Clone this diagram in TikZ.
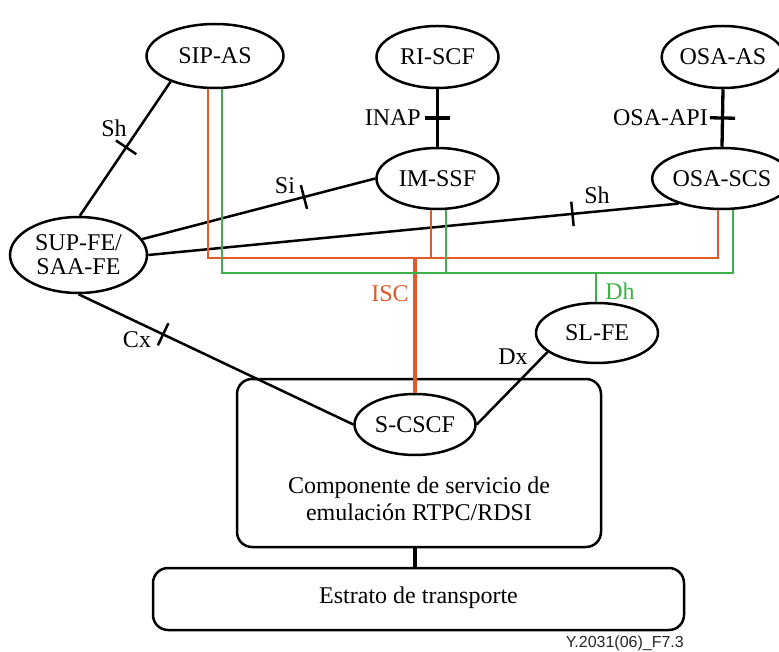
\documentclass[tikz,border=0pt]{standalone}
\usepackage{fontspec}
\setmainfont{Liberation Serif}
\newfontfamily\figsans{Liberation Sans}
\usetikzlibrary{shapes.geometric,calc}

\definecolor{iscorange}{RGB}{226,90,40}
\definecolor{dhgreen}{RGB}{62,176,74}

\begin{document}
\begin{tikzpicture}[x=1pt,y=-1pt,
  font=\fontsize{24}{27}\selectfont,
  fe/.style={ellipse, draw, line width=2.5pt, inner sep=0pt, align=center},
  link/.style={line width=2.5pt, line cap=butt},
  heavylink/.style={line width=3.3pt},
  tickmark/.style={sloped, inner sep=0pt, minimum width=0pt, minimum height=22pt},
  lbl/.style={inner sep=0pt},
  iscline/.style={iscorange, line width=2.4pt},
  iscmain/.style={iscorange, line width=3.5pt},
  dhline/.style={dhgreen, line width=2.4pt},
  stratum/.style={draw, line width=2.5pt, rounded corners=15pt, inner sep=0pt}
]
\useasboundingbox (0,0) rectangle (779,652);

% functional entities
\node[fe, minimum width=137pt, minimum height=64pt] (sip)    at (215,56)    {SIP-AS};
\node[fe, minimum width=122pt, minimum height=62pt] (riscf)  at (437.5,57)  {RI-SCF};
\node[fe, minimum width=119pt, minimum height=62pt] (osaas)  at (723,57)    {OSA-AS};
\node[fe, minimum width=122pt, minimum height=61pt] (imssf)  at (437.5,178.5) {IM-SSF};
\node[fe, minimum width=119pt, minimum height=61pt] (osascs) at (722,178.5) {OSA-SCS};
\node[fe, minimum width=137pt, minimum height=76pt] (sup)    at (78.5,255)  {SUP-FE/\\[-3pt]SAA-FE};
\node[fe, minimum width=122pt, minimum height=60pt] (slfe)   at (597,333)   {SL-FE};

% PSTN/ISDN emulation component and transport stratum
\node[stratum, minimum width=364pt, minimum height=168pt] (comp) at (419,463) {};
\node[fe, minimum width=121pt, minimum height=61pt] (scscf)  at (415,424.5) {S-CSCF};
\node[align=center, lbl] (comptext) at (419,499) {Componente de servicio de\\emulación RTPC/RDSI};
\node[stratum, minimum width=531pt, minimum height=62pt] (transport) at (418.5,599) {};
\node[lbl] (transporttext) at (418.5,597.5) {Estrato de transporte};

% reference points with tick marks
\draw[link] (sip.210) -- node[tickmark, pos=0.49] (tkShA) {} (sup.88);
\draw[link] (tkShA.north) -- (tkShA.south);
\node[lbl] (lShA) at (114,128) {Sh};

\draw[link] (sup.14) -- node[tickmark, pos=0.694] (tkSi) {} (imssf.west);
\draw[link] (tkSi.north) -- (tkSi.south);
\node[lbl] (lSi) at (285,186) {Si};

\draw[link] (sup.east) -- node[tickmark, pos=0.80] (tkShB) {} (osascs.210);
\draw[link] (tkShB.north) -- (tkShB.south);
\node[lbl] (lShB) at (597,195) {Sh};

\draw[link] (sup.south) -- node[tickmark, pos=0.308] (tkCx) {} (scscf.west);
\draw[link] (tkCx.north) -- (tkCx.south);
\node[lbl] (lCx) at (137,340) {Cx};

\draw[heavylink] (riscf.south) -- node[tickmark, pos=0.5] (tkInap) {} (imssf.north);
\draw[heavylink] (tkInap.north) -- (tkInap.south);
\node[lbl, anchor=east] (lInap) at (421,118) {INAP};

\draw[heavylink] (osaas.south) -- node[tickmark, pos=0.5] (tkApi) {} (osascs.north);
\draw[heavylink] (tkApi.north) -- (tkApi.south);
\node[lbl, anchor=east] (lApi) at (708,118) {OSA-API};

\draw[link] (slfe.201) -- (scscf.east);
\node[lbl] (lDx) at (513,357) {Dx};

\draw[heavylink] (scscf |- comp.south) -- (scscf |- transport.north);

% ISC bus (orange)
\coordinate (obus) at (0,258);
\coordinate (sipO) at ([xshift=-7pt]sip.south);
\coordinate (imO)  at ([xshift=-6.5pt]imssf.south);
\coordinate (osaO) at ([xshift=-4pt]osascs.south);
\draw[iscline] (sipO) -- (sipO |- obus) -- (osaO |- obus) -- (osaO);
\draw[iscline] (imO) -- (imO |- obus);
\draw[iscmain] (scscf.north |- obus) -- (scscf.north);
\node[lbl, text=iscorange] (lIsc) at (390,294) {ISC};

% Dh bus (green)
\coordinate (gbus) at (0,273);
\coordinate (sipG) at ([xshift=7pt]sip.south);
\coordinate (imG)  at ([xshift=8.5pt]imssf.south);
\coordinate (osaG) at ([xshift=11pt]osascs.south);
\draw[dhline] (sipG) -- (sipG |- gbus) -- (osaG |- gbus) -- (osaG);
\draw[dhline] (imG) -- (imG |- gbus);
\draw[dhline] ([xshift=-1pt]slfe.north |- gbus) -- ([xshift=-1pt]slfe.north);
\node[lbl, text=dhgreen] (lDh) at (620,291) {Dh};

% figure number
\node[lbl, anchor=east, font=\figsans\fontsize{16}{18}\selectfont, text=black!85] (figno) at (684,643) {Y.2031(06)\_F7.3};
\end{tikzpicture}
\end{document}
